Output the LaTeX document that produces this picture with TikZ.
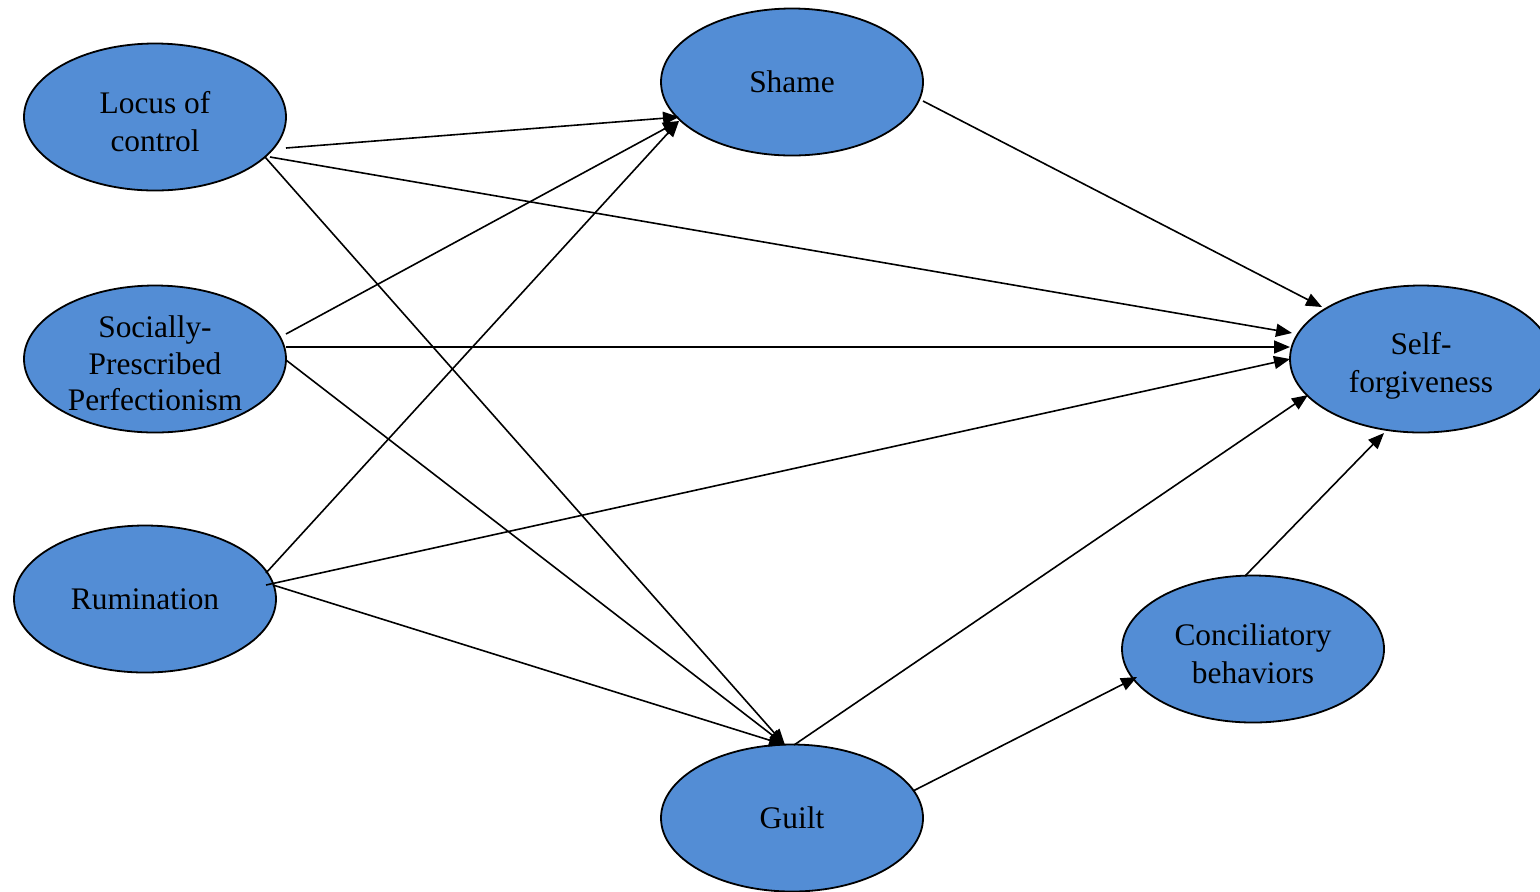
\documentclass[tikz,border=0pt]{standalone}
\usepackage{fontspec}
\setmainfont{Liberation Serif}
\usetikzlibrary{shapes.geometric,arrows.meta}
\definecolor{nodeblue}{RGB}{83,141,213}
% invisible strut that lowers a two-line label inside its ellipse
\newcommand{\tgap}{\rule{0pt}{16pt}}
% lower one line of text without changing the size of its box
\newcommand{\lowerln}[1]{\raisebox{-2.3pt}[\height][\depth]{#1}}
\begin{document}
\begin{tikzpicture}[x=0.5pt,y=-0.5pt,
  var/.style={ellipse,draw=black,line width=0.9pt,fill=nodeblue,
    minimum width=131pt,minimum height=73.5pt,inner sep=0pt,
    align=center,font=\fontsize{15.7}{18.9}\selectfont},
  path/.style={line width=0.8pt,-{Triangle[length=8pt,width=6.5pt]}}]
\clip (0,0) rectangle (1540,891);
\useasboundingbox (0,0) rectangle (1540,891);

\node[var] (loc)   at (155,117)  {\tgap Locus of\\control};
\node[var] (shame) at (792,82)   {Shame};
\node[var,font=\fontsize{15.7}{18.3}\selectfont] (spp) at (155,359)
  {\lowerln{Socially-}\\\lowerln{Prescribed}\\\lowerln{Perfectionism}};
\node[var] (rum)   at (145,599)  {Rumination};
\node[var] (sf)    at (1421,359) {\rule{0pt}{18pt}Self-\\forgiveness};
\node[var] (con)   at (1253,649) {\tgap Conciliatory\\behaviors};
\node[var] (guilt) at (792,818)  {Guilt};

% paths from locus of control
\draw[path] ([shift={(131,31)}]loc.center) -- ([shift={(-113,35)}]shame.center);
\draw[path] ([shift={(115,40)}]loc.center) -- ([shift={(-129,-26)}]sf.center);
\draw[path] ([shift={(110,40)}]loc.center) -- ([shift={(-7,-73)}]guilt.center);
% paths from socially-prescribed perfectionism
\draw[path] ([shift={(131,-25)}]spp.center) -- ([shift={(-113,39)}]shame.center);
\draw[path] ([shift={(131,-12)}]spp.center) -- ([shift={(-131,-12)}]sf.center);
\draw[path] ([shift={(131,1)}]spp.center) -- ([shift={(-7,-73)}]guilt.center);
% paths from rumination
\draw[path] ([shift={(121,-26)}]rum.center) -- ([shift={(-113,39)}]shame.center);
\draw[path] ([shift={(121,-14)}]rum.center) -- ([shift={(-131,0)}]sf.center);
\draw[path] ([shift={(128,-14)}]rum.center) -- ([shift={(-7,-73)}]guilt.center);
% mediators to outcome
\draw[path] ([shift={(131,19)}]shame.center) -- ([shift={(-99,-52)}]sf.center);
\draw[path] ([shift={(2,-73)}]guilt.center) -- ([shift={(-113,36)}]sf.center);
\draw[path] ([shift={(121,-27)}]guilt.center) -- ([shift={(-116,28)}]con.center);
\draw[path] ([shift={(-8,-73)}]con.center) -- ([shift={(-37,74)}]sf.center);
\end{tikzpicture}
\end{document}
